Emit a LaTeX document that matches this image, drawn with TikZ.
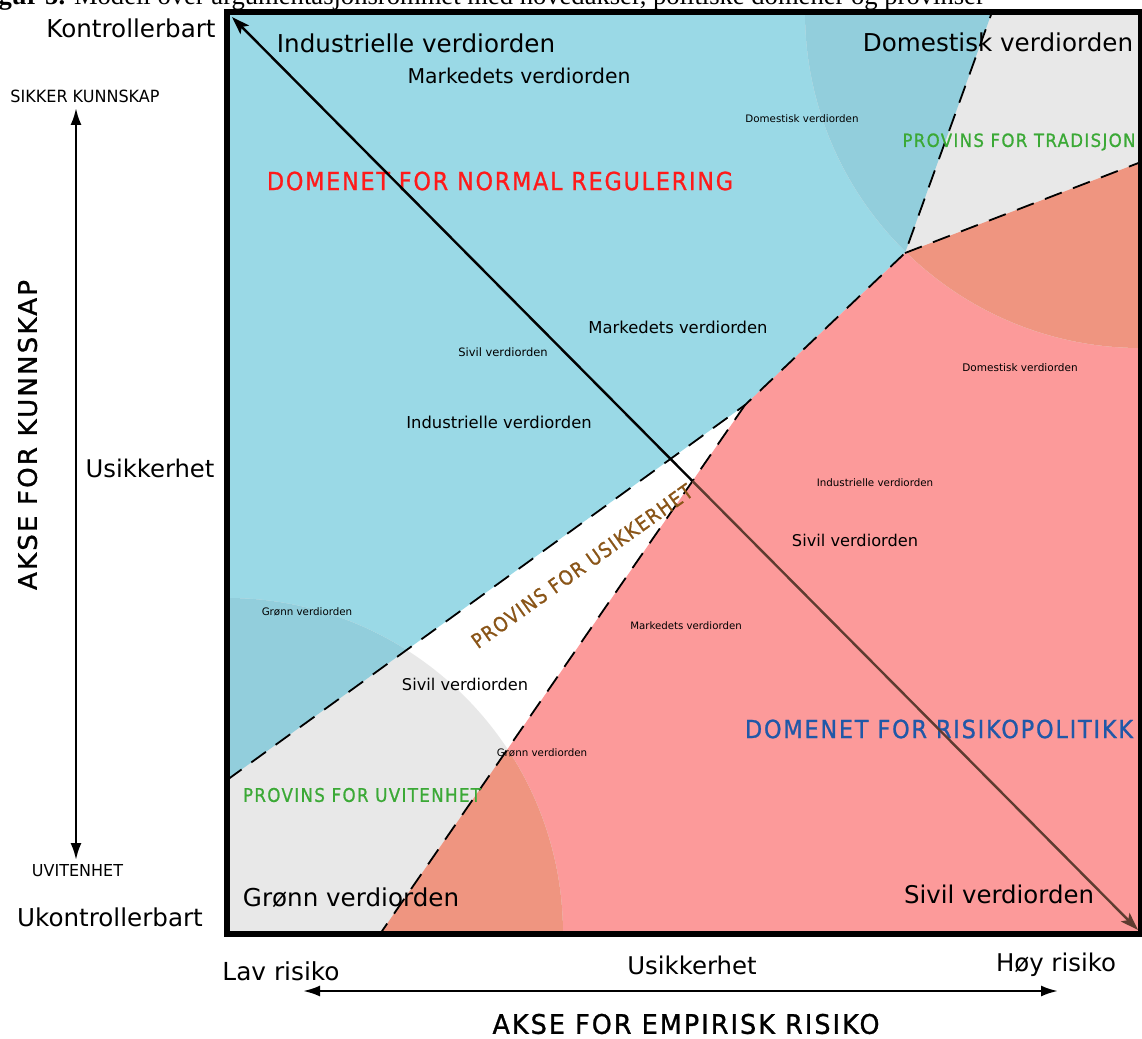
\documentclass[tikz,border=0pt]{standalone}
\usepackage{fontspec}
\usepackage{graphicx}
\usetikzlibrary{arrows.meta}
\setmainfont{DejaVu Sans}
\newfontfamily\capsf[LetterSpace=8,FakeBold=1]{DejaVu Sans}
\newfontfamily\captionfont{Liberation Serif}

\definecolor{regblue}{HTML}{9AD9E6}
\definecolor{regbluedk}{HTML}{92CEDC}
\definecolor{riskred}{HTML}{FC9A9A}
\definecolor{riskredov}{HTML}{EF9580}
\definecolor{provgray}{HTML}{E8E8E8}
\definecolor{provgreen}{HTML}{3BA936}
\definecolor{normred}{HTML}{FF1A1A}
\definecolor{riskpolblue}{HTML}{2058A8}
\definecolor{uncbrown}{HTML}{8A5518}
\definecolor{axisbrown}{HTML}{5E3C30}

% font size helper and fitted capital labels
\newcommand\fs[1]{\fontsize{#1}{#1}\selectfont}
\newcommand\capsfit[3]{\resizebox{#1pt}{#2pt}{\capsf #3}}

\begin{document}
\begin{tikzpicture}[x=1pt,y=-1pt,
  lab/.style={inner sep=0pt, anchor=center},
  boundary/.style={line width=1.8pt, dash pattern=on 18pt off 12pt},
  diag/.style={line width=2.4pt},
  axisline/.style={line width=2.4pt, {Latex[length=17pt,width=11pt]}-{Latex[length=17pt,width=11pt]}}
]
\useasboundingbox (0,0) rectangle (1142,1038);
\fill[white] (0,0) rectangle (1142,1038);

% frame corners and region corners
\coordinate (TL) at (227,12);
\coordinate (TR) at (1141,12);
\coordinate (BR) at (1141,934);
\coordinate (BL) at (227,934);
\coordinate (kTop) at (905,253);
\coordinate (kMid) at (745,405);
\coordinate (eLeft) at (227,780);
\coordinate (eBot) at (380,934);
\coordinate (eTop) at (992,12);
\coordinate (eRight) at (1141,162);

% domains
\fill[regblue] (TL) -- (eTop) -- (kTop) -- (kMid) -- (eLeft) -- cycle;
\fill[riskred] (kMid) -- (kTop) -- (eRight) -- (BR) -- (eBot) -- cycle;

% value-order circles at the two corners
\foreach \cc in {BL,TR}{
  \begin{scope}
    \clip (\cc) circle[radius=336];
    \fill[provgray] (TL) rectangle (BR);
    \fill[regbluedk] (TL) -- (eTop) -- (kTop) -- (kMid) -- (eLeft) -- cycle;
    \fill[riskredov] (kMid) -- (kTop) -- (eRight) -- (BR) -- (eBot) -- cycle;
  \end{scope}
}

% dashed province boundaries
\draw[boundary] (eLeft) -- (kMid) -- (kTop) -- (eTop);
\draw[boundary] (kTop) -- (eRight);
\draw[boundary] (kMid) -- (eBot);

% outer frame
\draw[line width=6.5pt] (TL) rectangle (BR);

% labels inside the field
\node[lab, font=\fs{24.6}] (indTop) at (416,43) {Industrielle verdiorden};
\node[lab, font=\fs{20.4}] (markTop) at (519,76) {Markedets verdiorden};
\node[lab, font=\fs{24.6}] (domTop) at (998,42) {Domestisk verdiorden};
\node[lab, font=\fs{10.3}] (domSmall) at (802,119) {Domestisk verdiorden};
\node[lab, text=provgreen] (provTrad) at (1019,142) {\capsfit{233}{13.5}{PROVINS FOR TRADISJON}};
\node[lab, text=normred] (domNorm) at (500,181) {\capsfit{466}{18.5}{DOMENET FOR NORMAL REGULERING}};
\node[lab, font=\fs{16.4}] (markMid) at (678,327) {Markedets verdiorden};
\node[lab, font=\fs{11.5}] (sivSmall) at (503,352) {Sivil verdiorden};
\node[lab, font=\fs{10.5}] (domRight) at (1020,368) {Domestisk verdiorden};
\node[lab, font=\fs{16.4}] (indMid) at (499,422) {Industrielle verdiorden};
\node[lab, font=\fs{10.3}] (indSmall) at (875,483) {Industrielle verdiorden};
\node[lab, font=\fs{16.2}] (sivMid) at (855,540) {Sivil verdiorden};
\node[lab, text=uncbrown, rotate=35.5] (provUsik) at (582,566) {\capsfit{266}{15}{PROVINS FOR USIKKERHET}};
\node[lab, font=\fs{10.3}] (gronSmall) at (307,612) {Grønn verdiorden};
\node[lab, font=\fs{10.2}] (markSmall) at (686,626) {Markedets verdiorden};
\node[lab, font=\fs{16.2}] (sivLow) at (465,684) {Sivil verdiorden};
\node[lab, text=riskpolblue] (domRisk) at (939,729) {\capsfit{388}{18.5}{DOMENET FOR RISIKOPOLITIKK}};
\node[lab, font=\fs{10.3}] (gronSmallB) at (542,753) {Grønn verdiorden};
\node[lab, text=provgreen] (provUvit) at (362,795) {\capsfit{238}{14}{PROVINS FOR UVITENHET}};
\node[lab, font=\fs{24.6}] (gronBig) at (351,898) {Grønn verdiorden};
\node[lab, font=\fs{24.4}] (sivBig) at (999,894) {Sivil verdiorden};

% diagonal axis, black over the regulation side, brown over the risk side
\coordinate (dA) at (232,17);
\coordinate (dB) at (1138,930);
\coordinate (dX) at (intersection of dA--dB and kMid--eBot);
\draw[diag, black, {Stealth[length=18pt,width=12pt,inset=4pt]}-] (dA) -- (dX);
\draw[diag, axisbrown, -{Stealth[length=18pt,width=12pt,inset=4pt]}] (dX) -- (dB);

% knowledge axis on the left
\coordinate (kUp) at (76,108);
\coordinate (kDown) at (76,860);
\draw[axisline] (kDown) -- (kUp);
\node[lab] (sikker) at (85,96) {\resizebox{149pt}{12.5pt}{SIKKER KUNNSKAP}};
\node[lab] (uviten) at (77.5,870.5) {\resizebox{91pt}{12pt}{UVITENHET}};
\node[lab, rotate=90] (akseK) at (27.5,435) {\capsfit{310}{19}{AKSE FOR KUNNSKAP}};
\node[lab, font=\fs{24.6}] (kontr) at (131,28) {Kontrollerbart};
\node[lab, font=\fs{24.3}] (usikL) at (150,468) {Usikkerhet};
\node[lab, font=\fs{24.6}] (ukontr) at (110,917) {Ukontrollerbart};

% risk axis at the bottom
\coordinate (rL) at (303,991);
\coordinate (rR) at (1058,991);
\draw[axisline] (rL) -- (rR);
\node[lab, font=\fs{24.8}] (lav) at (281,971) {Lav risiko};
\node[lab, font=\fs{24.4}] (usikB) at (692,965) {Usikkerhet};
\node[lab, font=\fs{24.4}, anchor=base] (hoy) at (1056,971) {Høy risiko};
\node[lab] (akseR) at (686,1024) {\capsfit{387}{20}{AKSE FOR EMPIRISK RISIKO}};

% figure caption running off the top edge
\node[inner sep=0pt, anchor=base east, font=\captionfont\fs{26.6}] (caption) at (985,5)
  {\textbf{Figur 5.} Modell over argumentasjonsrommet med hovedakser, politiske domener og provinser};
\end{tikzpicture}
\end{document}
